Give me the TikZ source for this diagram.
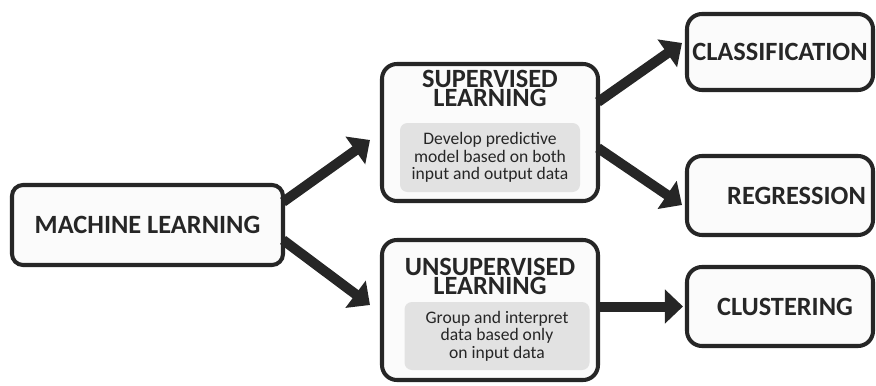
\documentclass[tikz,border=0pt]{standalone}
\usepackage{fontspec}
\setmainfont{Carlito}
\usetikzlibrary{arrows.meta,calc}

\definecolor{ink}{HTML}{262626}
\definecolor{panel}{HTML}{E2E2E2}
\definecolor{paper}{HTML}{FBFBFB}

\tikzset{
	box/.style={draw=ink,line width=2.3pt,rounded corners=0.3cm,fill=paper,text=ink,inner sep=0pt,align=center,font=\bfseries\fontsize{15}{11}\selectfont},
	title/.style={text=ink,inner sep=0pt,align=center,font=\bfseries\fontsize{15}{11}\selectfont},
	note/.style={fill=panel,rounded corners=0.15cm,text=ink,inner sep=0pt,align=center,font=\fontsize{10}{9.9}\selectfont},
	arr/.style={ink,line width=0.2cm,-{Triangle[length=0.36cm,width=0.66cm]}}
}

\begin{document}
\begin{tikzpicture}
	\useasboundingbox (0,0) rectangle (17.52,7.7);
	\def\w{4.32} %width of the middle boxes
	\def\v{3.72} %width of the boxes on the right

	%LEFT BOX
	\node[box,rounded corners=0.22cm,minimum width=5.42cm,minimum height=1.6cm] (ml) at (2.95,3.2) {MACHINE LEARNING};

	%MIDDLE BOXES
	\node[box,minimum width=\w cm,minimum height=2.74cm] (sup) at (9.8,5.05) {};
	\node[title] (suptitle) at (9.8,5.93) {SUPERVISED\\LEARNING};
	\node[note,minimum width=3.6cm,minimum height=1.38cm] (supnote) at (9.8,4.55) {Develop predictive\\model based on both\\input and output data};
	%
	\node[box,minimum width=\w cm,minimum height=2.8cm] (uns) at (9.8,1.5) {};
	\node[title] (unstitle) at (9.8,2.17) {UNSUPERVISED\\LEARNING};
	\node[note,minimum width=3.7cm,minimum height=1.36cm] (unsnote) at (9.94,0.98) {Group and interpret\\data based only\\on input data};

	%RIGHT BOXES
	\node[box,minimum width=\v cm,minimum height=1.52cm] (cls) at (15.6,6.66) {CLASSIFICATION};
	\node[box,minimum width=\v cm,minimum height=1.58cm] (reg) at (15.6,3.79) {\hspace*{0.66cm}REGRESSION};
	\node[box,minimum width=\v cm,minimum height=1.58cm] (clu) at (15.6,1.57) {\hspace*{0.2cm}CLUSTERING};

	%ARROWS
	\draw[arr] ($(ml.east)+(-0.04,0.46)$) -- ($(sup.west)+(-0.2,-0.15)$); %to supervised
	\draw[arr] ($(ml.east)+(-0.04,-0.3)$) -- ($(uns.west)+(-0.2,0.1)$); %to unsupervised
	\draw[arr] ($(sup.east)+(-0.04,0.61)$) -- ($(cls.west)+(-0.06,0.18)$); %to classification
	\draw[arr] ($(sup.east)+(-0.04,-0.31)$) -- ($(reg.west)+(-0.06,-0.19)$); %to regression
	\draw[arr] ($(uns.east |- clu.west)+(-0.04,0)$) -- ($(clu.west)+(-0.04,0)$); %to clustering
\end{tikzpicture}
\end{document}
